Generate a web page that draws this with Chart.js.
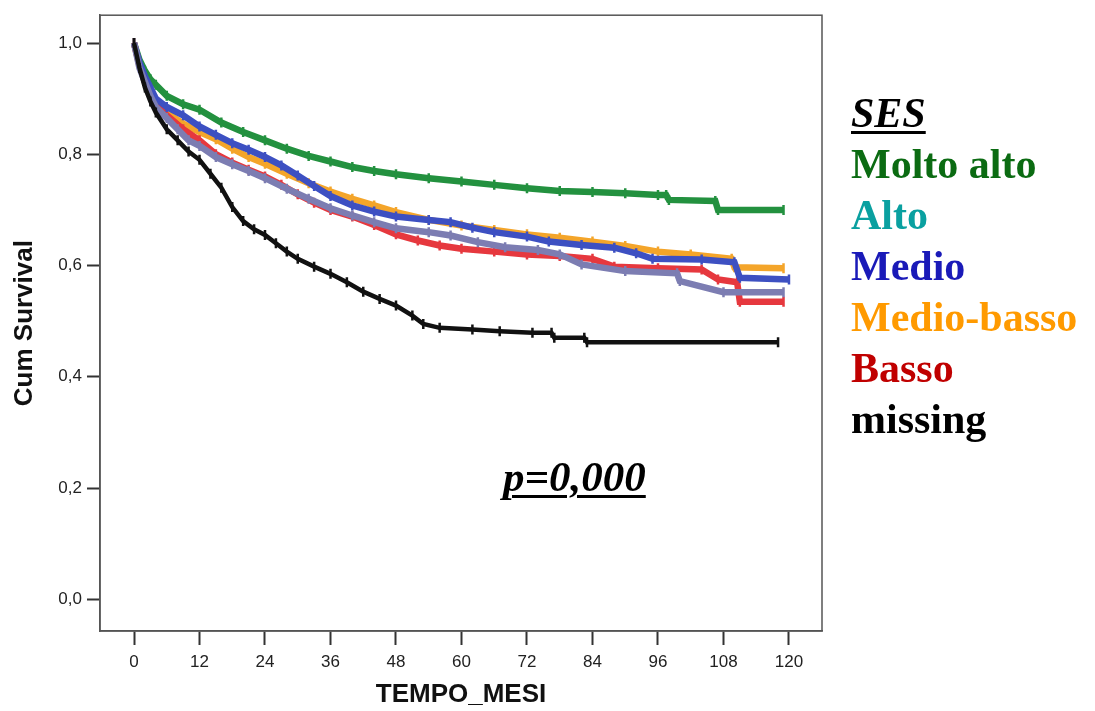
<!DOCTYPE html>
<html>
<head>
<meta charset="utf-8">
<script src="https://cdn.jsdelivr.net/npm/chart.js@4.4.1/dist/chart.umd.min.js"></script>
<style>
  body { margin: 0; background: #fff; }
  #wrap { position: relative; width: 1095px; height: 711px; }
  #c { position: absolute; left: 0; top: 0; }
  .serif { position: absolute; font-family: "Liberation Serif", "Times New Roman", serif; font-weight: bold; white-space: nowrap; }
  #legend { left: 851px; top: 88px; font-size: 42px; line-height: 51px; }
  #legend .ttl { font-style: italic; text-decoration: underline; text-decoration-thickness: 3px; text-underline-offset: 4px; }
  #pval { left: 503px; top: 451px; font-size: 43px; line-height: 51px; font-style: italic; text-decoration: underline; text-decoration-thickness: 3px; text-underline-offset: 4px; }
</style>
</head>
<body>
<div id="wrap">
  <canvas id="c" width="1095" height="711"></canvas>
  <div id="legend" class="serif"></div>
  <div id="pval" class="serif">p=0,000</div>
</div>
<script>
// x axis ticks (months) and y axis ticks
const xTicks = [0, 12, 24, 36, 48, 60, 72, 84, 96, 108, 120];
const yTicks = [0, 0.2, 0.4, 0.6, 0.8, 1.0];

// survival curves (month, cumulative survival)
const moltoAltoT = [0, 1, 2, 3, 4, 6, 9, 12, 16, 20, 24, 28, 32, 36, 40, 44, 48, 54, 60, 66, 72, 78, 84, 90, 96, 97.5, 98, 106.5, 107, 119];
const moltoAltoS = [1, 0.97, 0.95, 0.935, 0.925, 0.905, 0.89, 0.88, 0.857, 0.84, 0.825, 0.81, 0.797, 0.787, 0.777, 0.77, 0.764, 0.757, 0.751, 0.745, 0.739, 0.734, 0.732, 0.73, 0.727, 0.727, 0.718, 0.716, 0.70, 0.70];

const altoT = [0, 1, 2, 3, 4, 6, 8, 10, 12, 15, 18, 21, 24, 28, 32, 36, 40, 44, 48, 54, 58, 63, 68, 74, 78, 82, 90, 99.5, 100, 108, 119];
const altoS = [1, 0.955, 0.93, 0.905, 0.885, 0.865, 0.845, 0.825, 0.815, 0.795, 0.782, 0.77, 0.757, 0.738, 0.72, 0.703, 0.69, 0.678, 0.667, 0.66, 0.654, 0.642, 0.633, 0.628, 0.62, 0.602, 0.59, 0.586, 0.572, 0.552, 0.552];

const medioT = [0, 1, 2, 3, 4, 6, 9, 12, 15, 18, 21, 24, 27, 30, 33, 36, 40, 44, 48, 54, 58, 62, 66, 72, 76, 82, 88, 92, 95, 104, 110, 111, 120];
const medioS = [1, 0.965, 0.94, 0.92, 0.9, 0.885, 0.87, 0.85, 0.835, 0.82, 0.808, 0.795, 0.78, 0.762, 0.743, 0.725, 0.708, 0.697, 0.688, 0.682, 0.678, 0.668, 0.66, 0.652, 0.643, 0.637, 0.632, 0.622, 0.612, 0.611, 0.606, 0.578, 0.575];

const medioBassoT = [0, 1, 2, 3, 4, 6, 9, 12, 15, 18, 21, 24, 28, 32, 36, 40, 44, 48, 54, 60, 66, 72, 78, 84, 90, 96, 102, 109.5, 110, 119];
const medioBassoS = [1, 0.96, 0.935, 0.915, 0.895, 0.875, 0.855, 0.84, 0.827, 0.81, 0.795, 0.783, 0.765, 0.748, 0.733, 0.72, 0.708, 0.696, 0.682, 0.672, 0.664, 0.656, 0.65, 0.643, 0.635, 0.625, 0.62, 0.612, 0.597, 0.595];

const bassoT = [0, 1, 2, 3, 4, 6, 9, 12, 15, 18, 21, 24, 27, 30, 33, 36, 40, 44, 48, 52, 56, 60, 66, 72, 78, 84, 88, 96, 104, 107, 110.5, 111, 119];
const bassoS = [1, 0.96, 0.93, 0.91, 0.89, 0.87, 0.845, 0.825, 0.8, 0.785, 0.772, 0.76, 0.745, 0.728, 0.713, 0.70, 0.688, 0.673, 0.656, 0.645, 0.636, 0.63, 0.625, 0.62, 0.617, 0.612, 0.598, 0.595, 0.593, 0.575, 0.57, 0.535, 0.535];

const missingT = [0, 1, 2, 3, 4, 6, 8, 10, 12, 14, 16, 18, 20, 22, 24, 26, 28, 30, 33, 36, 39, 42, 45, 48, 51, 53, 56, 62, 67, 73, 76.5, 77, 82.5, 83, 118];
const missingS = [1, 0.955, 0.92, 0.895, 0.875, 0.845, 0.825, 0.805, 0.79, 0.765, 0.74, 0.705, 0.68, 0.665, 0.655, 0.64, 0.625, 0.612, 0.598, 0.585, 0.57, 0.553, 0.54, 0.528, 0.51, 0.495, 0.488, 0.485, 0.482, 0.479, 0.479, 0.47, 0.47, 0.462, 0.462];

const groups = ['Molto alto', 'Alto', 'Medio', 'Medio-basso', 'Basso', 'missing'];
const lineColors = ['#23913f', '#7c7db2', '#3d50c2', '#f4a52a', '#e6383e', '#111111'];
const legendColors = ['#0b6b12', '#0aa0a0', '#1a1ab8', '#ff9a00', '#c00000', '#000000'];
const drawOrder = [5, 1, 2, 4, 3, 0];

function pts(t, s) { return t.map((v, i) => ({ x: v, y: s[i] })); }
const series = [
  pts(moltoAltoT, moltoAltoS), pts(altoT, altoS), pts(medioT, medioS),
  pts(medioBassoT, medioBassoS), pts(bassoT, bassoS), pts(missingT, missingS)
];

// legend text
const leg = document.getElementById('legend');
leg.innerHTML = '<div class="ttl">SES</div>' +
  groups.map((g, i) => '<div style="color:' + legendColors[i] + '">' + g + '</div>').join('');

const frame = {
  id: 'frame',
  afterDraw(chart) {
    const a = chart.chartArea, ctx = chart.ctx;
    ctx.save();
    ctx.strokeStyle = '#555';
    ctx.lineWidth = 1.5;
    ctx.strokeRect(a.left, a.top, a.right - a.left, a.bottom - a.top);
    ctx.restore();
  }
};

const comma = v => v.toFixed(1).replace('.', ',');

new Chart(document.getElementById('c'), {
  type: 'line',
  data: {
    datasets: series.map((d, i) => ({
      label: groups[i],
      data: d,
      borderColor: lineColors[i],
      backgroundColor: lineColors[i],
      borderWidth: i === 5 ? 4.5 : 6.5,
      pointStyle: 'line',
      rotation: 90,
      pointRadius: 5,
      pointBorderWidth: 2.5,
      tension: 0,
      order: drawOrder[i]
    }))
  },
  options: {
    responsive: false,
    animation: false,
    layout: { padding: { left: 0, top: 12, right: 273, bottom: 0 } },
    plugins: { legend: { display: false }, tooltip: { enabled: false } },
    scales: {
      x: {
        type: 'linear',
        min: -6.23,
        max: 126.05,
        afterFit(s) { s.height = 80; },
        afterBuildTicks(s) { s.ticks = xTicks.map(v => ({ value: v })); },
        ticks: { color: '#222', font: { family: 'Liberation Sans', size: 17 }, padding: 7, maxRotation: 0, autoSkip: false },
        grid: { drawOnChartArea: false, drawTicks: true, tickLength: 14, tickWidth: 2, tickColor: '#333' },
        border: { display: true, color: '#555', width: 1.5 },
        title: { display: true, text: 'TEMPO_MESI', color: '#111', font: { family: 'Liberation Sans', size: 26, weight: 'bold' }, padding: { top: 0, bottom: 1 } }
      },
      y: {
        type: 'linear',
        min: -0.057,
        max: 1.05,
        afterFit(s) { s.width = 100; },
        afterBuildTicks(s) { s.ticks = yTicks.map(v => ({ value: v })); },
        ticks: { color: '#222', font: { family: 'Liberation Sans', size: 17 }, padding: 5, callback: v => comma(v) },
        grid: { drawOnChartArea: false, drawTicks: true, tickLength: 13, tickWidth: 2, tickColor: '#333' },
        border: { display: true, color: '#555', width: 1.5 },
        title: { display: true, text: 'Cum Survival', color: '#111', font: { family: 'Liberation Sans', size: 26, weight: 'bold' }, padding: { top: 9, bottom: 0 } }
      }
    }
  },
  plugins: [frame]
});
</script>
</body>
</html>
